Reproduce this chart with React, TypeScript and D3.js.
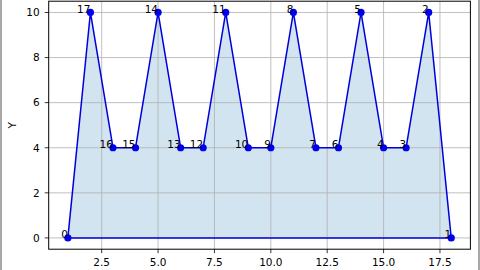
import React from "react";
import * as d3 from "d3";

const xs = [1, 18, 17, 16, 15, 14, 13, 12, 11, 10, 9, 8, 7, 6, 5, 4, 3, 2];
const ys = [0, 0, 10, 4, 4, 10, 4, 4, 10, 4, 4, 10, 4, 4, 10, 4, 4, 10];
const xTicks = [2.5, 5, 7.5, 10, 12.5, 15, 17.5];
const yTicks = [0, 2, 4, 6, 8, 10];

const W = 480, H = 270;
const L = 48.7, R = 470.4, T = 1.2, B = 249.2;

export default function App() {
  const x = d3.scaleLinear().domain([0.15, 18.85]).range([L, R]);
  const y = d3.scaleLinear().domain([-0.5, 10.5]).range([B, T]);
  const pts: [number, number][] = xs.map((v, i) => [x(v), y(ys[i])]);
  const poly = d3.line()(pts)! + "Z";
  const font = "DejaVu Sans, sans-serif";
  return (
    <svg width={W} height={H} style={{ position: "fixed", left: 0, top: 0, background: "#fff" }} fontFamily={font}>
      <rect x={0} y={0} width={W} height={H} fill="#fff" />
      <rect x={0} y={0} width={2} height={H} fill="#a8a8a8" />
      <rect x={478} y={0} width={2} height={H} fill="#a8a8a8" />
      <path d={poly} fill="rgba(31,119,180,0.2)" stroke="none" />
      {xTicks.map((t) => (
        <line key={"gx" + t} x1={x(t)} x2={x(t)} y1={T} y2={B} stroke="#b0b0b0" strokeWidth={0.8} />
      ))}
      {yTicks.map((t) => (
        <line key={"gy" + t} x1={L} x2={R} y1={y(t)} y2={y(t)} stroke="#b0b0b0" strokeWidth={0.8} />
      ))}
      <path d={poly} fill="none" stroke="#0000dd" strokeWidth={1.5} strokeLinejoin="round" />
      {pts.map((p, i) => (
        <circle key={"c" + i} cx={p[0]} cy={p[1]} r={3.6} fill="#0000ee" />
      ))}
      {pts.map((p, i) => (
        <text key={"t" + i} x={p[0]} y={p[1] + 0.5} fontSize={10.5} textAnchor="end" fill="#000">
          {i}
        </text>
      ))}
      <rect x={L} y={T} width={R - L} height={B - T} fill="none" stroke="#000" strokeWidth={1} />
      {xTicks.map((t) => (
        <g key={"xt" + t}>
          <line x1={x(t)} x2={x(t)} y1={B} y2={B + 4} stroke="#000" strokeWidth={0.8} />
          <text x={x(t)} y={B + 17} fontSize={10.5} textAnchor="middle" fill="#000">
            {t.toFixed(1)}
          </text>
        </g>
      ))}
      {yTicks.map((t) => (
        <g key={"yt" + t}>
          <line x1={L - 4} x2={L} y1={y(t)} y2={y(t)} stroke="#000" strokeWidth={0.8} />
          <text x={L - 9} y={y(t) + 3.8} fontSize={10.5} textAnchor="end" fill="#000">
            {t}
          </text>
        </g>
      ))}
      <text x={0} y={0} fontSize={10.5} textAnchor="middle" transform={`translate(16,${(T + B) / 2}) rotate(-90)`} fill="#000">
        Y
      </text>
    </svg>
  );
}
